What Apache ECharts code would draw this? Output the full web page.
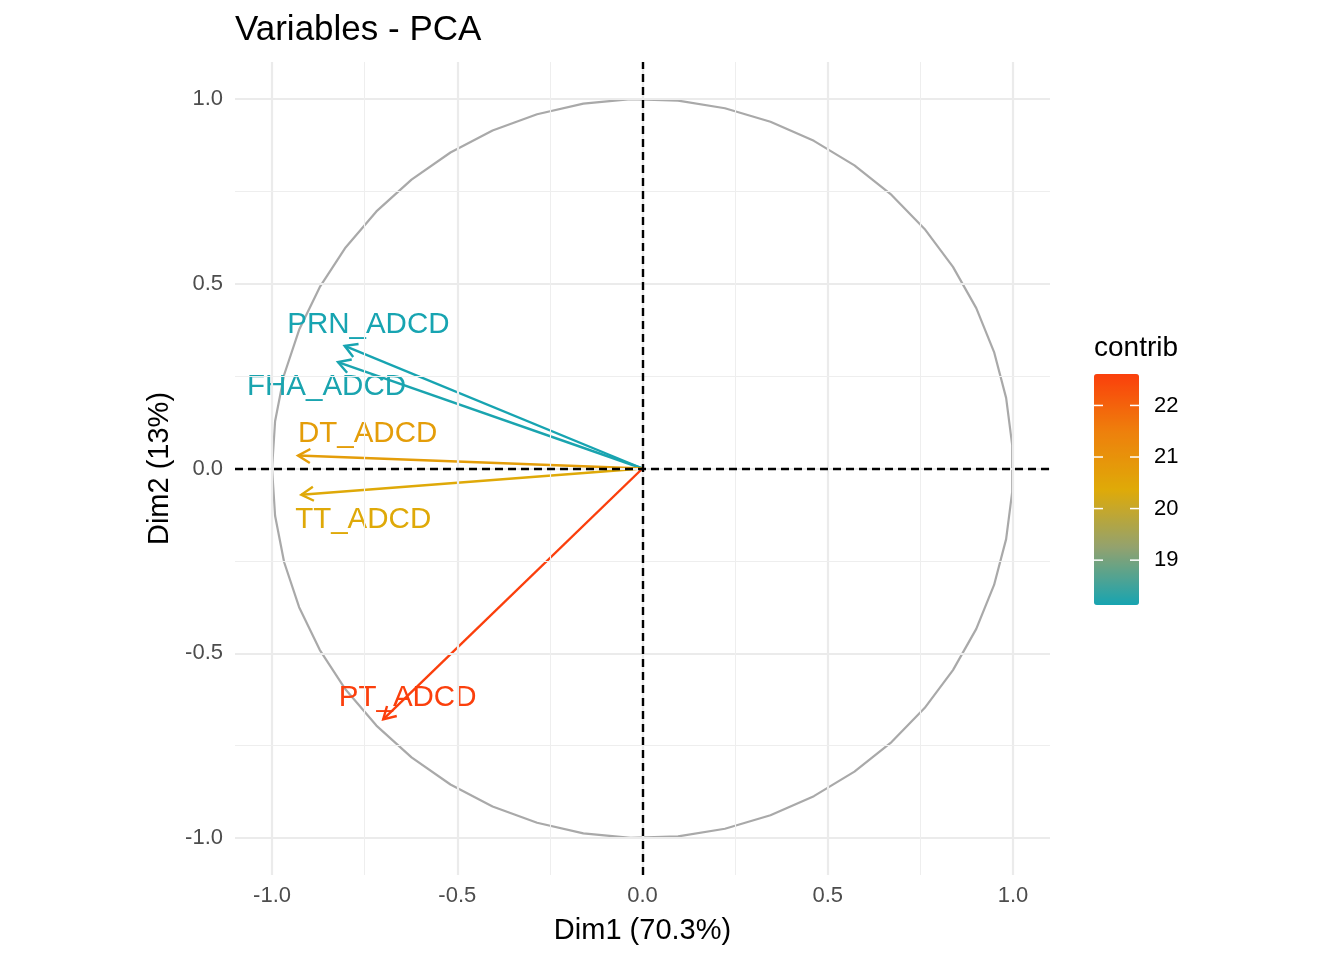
<!DOCTYPE html>
<html><head><meta charset="utf-8">
<script src="https://cdn.jsdelivr.net/npm/echarts@6/dist/echarts.min.js"></script>
<style>html,body{margin:0;padding:0;background:#fff}#c{width:1344px;height:960px}</style>
</head><body><div id="c"></div>
<script>
// ---- data ----
const variables = ['PRN_ADCD', 'FHA_ADCD', 'DT_ADCD', 'TT_ADCD', 'PT_ADCD'];
const dim1 = [-0.804, -0.822, -0.930, -0.921, -0.700];
const dim2 = [0.332, 0.288, 0.035, -0.071, -0.679];
const contrib = [18.13, 18.16, 20.71, 20.40, 22.61];
const labelX = [-0.740, -0.853, -0.742, -0.754, -0.634];
const labelY = [0.390, 0.220, 0.095, -0.138, -0.621];
const axisTicks = [-1, -0.5, 0, 0.5, 1];
const minorTicks = [-0.75, -0.25, 0.25, 0.75];
const legendTicks = [19, 20, 21, 22];
const gradientColors = ['#17A4B1', '#93A26E', '#DFAA08', '#EE800C', '#FB3F0C'];
const circleSegments = 50;

const FONT = '"Liberation Sans", Arial, Helvetica, sans-serif';

// correlation circle (unit circle reference, 50 points from -pi to pi)
const circle = [];
for (let i = 0; i < circleSegments; i++) {
  const th = -Math.PI + i * 2 * Math.PI / (circleSegments - 1);
  circle.push([Math.cos(th), Math.sin(th)]);
}

const arrowData = variables.map((v, i) => [dim1[i], dim2[i], labelX[i], labelY[i], contrib[i]]);

const cMin = Math.min(...contrib), cMax = Math.max(...contrib);
const barLeft = 1094, barTop = 374, barW = 45, barH = 231;

const gridMarks = [];
axisTicks.forEach(v => {
  gridMarks.push({xAxis: v, lineStyle: {color: '#EBEBEB', width: 2.2, type: 'solid'}});
  gridMarks.push({yAxis: v, lineStyle: {color: '#EBEBEB', width: 2.2, type: 'solid'}});
});
minorTicks.forEach(v => {
  gridMarks.push({xAxis: v, lineStyle: {color: '#EEEEEE', width: 1.1, type: 'solid'}});
  gridMarks.push({yAxis: v, lineStyle: {color: '#EEEEEE', width: 1.1, type: 'solid'}});
});

const graphics = [{
  type: 'text', left: barLeft, top: 334,
  style: {text: 'contrib', fill: '#000', font: '28px ' + FONT}
}];
legendTicks.forEach(v => {
  const y = barTop + (cMax - v) / (cMax - cMin) * barH;
  graphics.push({type: 'text', x: 1154, y: y, z: 10,
    style: {text: String(v), fill: '#000', font: '22px ' + FONT, verticalAlign: 'middle', align: 'left'}});
  graphics.push({type: 'line', z: 10, shape: {x1: barLeft, y1: y, x2: barLeft + 9, y2: y},
    style: {stroke: '#fff', lineWidth: 1.5}});
  graphics.push({type: 'line', z: 10, shape: {x1: barLeft + barW - 9, y1: y, x2: barLeft + barW, y2: y},
    style: {stroke: '#fff', lineWidth: 1.5}});
});

const axisCommon = {
  type: 'value', min: -1.1, max: 1.1,
  axisLine: {show: false},
  axisTick: {show: true, customValues: axisTicks, length: 7, lineStyle: {color: '#333333', width: 2}},
  axisLabel: {customValues: axisTicks, formatter: v => (Math.abs(v) < 1e-9 ? 0 : v).toFixed(1),
    color: '#4D4D4D', fontSize: 22, fontFamily: FONT},
  splitLine: {show: false},
  nameLocation: 'middle',
  nameTextStyle: {color: '#000', fontSize: 29, fontFamily: FONT}
};

const chart = echarts.init(document.getElementById('c'));
chart.setOption({
  animation: false,
  backgroundColor: '#fff',
  title: {text: 'Variables - PCA', left: 235, top: 13, padding: 0,
    textStyle: {color: '#000', fontSize: 35, fontWeight: 'normal', fontFamily: FONT}},
  grid: {left: 235, right: 294, top: 62, bottom: 85},
  xAxis: Object.assign({}, axisCommon, {name: 'Dim1 (70.3%)', nameGap: 41,
    axisLabel: Object.assign({}, axisCommon.axisLabel, {margin: 10})}),
  yAxis: Object.assign({}, axisCommon, {name: 'Dim2 (13%)', nameGap: 61,
    axisLabel: Object.assign({}, axisCommon.axisLabel, {margin: 12})}),
  visualMap: {
    type: 'continuous', min: cMin, max: cMax, dimension: 4, seriesIndex: 3,
    inRange: {color: gradientColors},
    left: barLeft, top: barTop, itemWidth: barW, itemHeight: barH,
    calculable: false, hoverLink: false, padding: 0, text: null, orient: 'vertical'
  },
  graphic: graphics,
  series: [
    {type: 'line', data: [], silent: true, z: 1,
      markLine: {silent: true, symbol: ['none', 'none'], label: {show: false}, animation: false, data: gridMarks}},
    {type: 'line', data: circle, showSymbol: false, silent: true, z: 2,
      lineStyle: {color: '#A9A9A9', width: 2.2}},
    {type: 'line', data: [], silent: true, z: 3,
      markLine: {silent: true, symbol: ['none', 'none'], label: {show: false}, animation: false,
        data: [{xAxis: 0}, {yAxis: 0}],
        lineStyle: {color: '#000', width: 2.4, type: [8, 5]}}},
    {type: 'custom', data: arrowData, z: 4,
      renderItem: function (params, api) {
        const o = api.coord([0, 0]);
        const t = api.coord([api.value(0), api.value(1)]);
        const color = api.visual('color');
        const ang = Math.atan2(t[1] - o[1], t[0] - o[0]);
        const L = 14, a = Math.PI / 6;
        const p1 = [t[0] - L * Math.cos(ang - a), t[1] - L * Math.sin(ang - a)];
        const p2 = [t[0] - L * Math.cos(ang + a), t[1] - L * Math.sin(ang + a)];
        const lp = api.coord([api.value(2), api.value(3)]);
        return {type: 'group', children: [
          {type: 'line', shape: {x1: o[0], y1: o[1], x2: t[0], y2: t[1]}, style: {stroke: color, lineWidth: 2.4}},
          {type: 'polyline', shape: {points: [p1, t, p2]}, style: {stroke: color, lineWidth: 2.4, fill: null}},
          {type: 'text', x: lp[0], y: lp[1],
            style: {text: variables[params.dataIndex], fill: color, font: '29.5px ' + FONT,
              align: 'center', verticalAlign: 'middle'}}
        ]};
      }}
  ]
});
</script></body></html>
